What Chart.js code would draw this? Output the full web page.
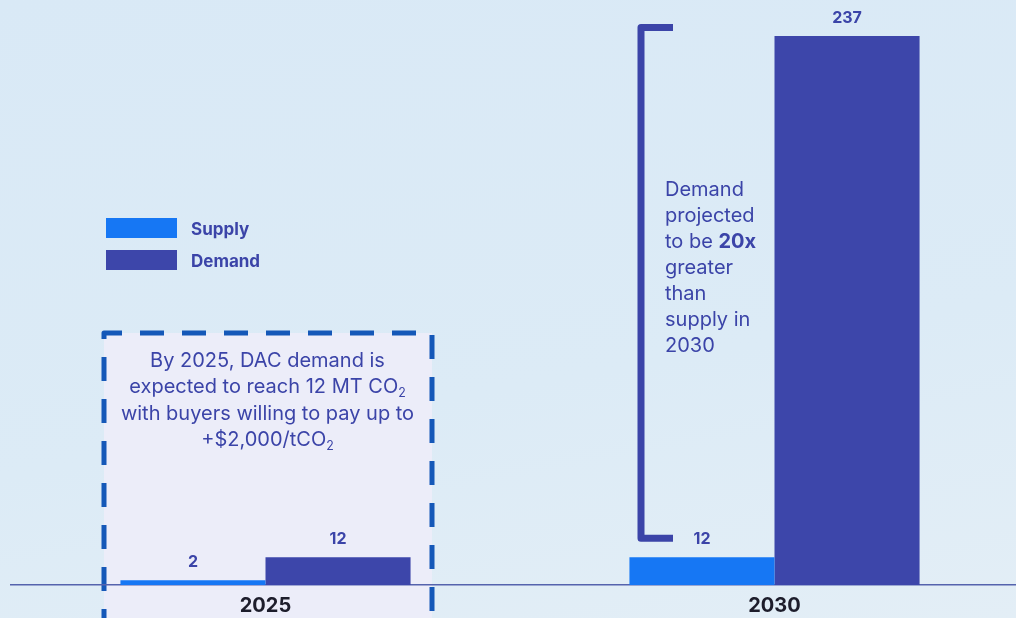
<!DOCTYPE html>
<html>
<head>
<meta charset="utf-8">
<script src="https://cdn.jsdelivr.net/npm/chart.js@4.4.0/dist/chart.umd.min.js"></script>
<style>
  html, body { margin:0; padding:0; width:1016px; height:618px; overflow:hidden;
    background: linear-gradient(170deg, #d9e9f6 0%, #dcebf6 60%, #e3eef6 100%); }
  #wrap { position:absolute; left:0; top:0; width:1030px; height:627px; }
</style>
</head>
<body>
<div id="wrap"><canvas id="c"></canvas></div>
<script>
const categories = ['2025', '2030'];
const supplyValues = [2, 12];
const demandValues = [12, 237];
const seriesNames = ['Supply', 'Demand'];
const boxLines = [
  [['By 2025, DAC demand is', null]],
  [['expected to reach 12 MT CO', null], ['2', 'sub']],
  [['with buyers willing to pay up to', null]],
  [['+$2,000/tCO', null], ['2', 'sub']]
];
const bracketLines = [
  [['Demand', 'n']],
  [['projected', 'n']],
  [['to be ', 'n'], ['20x', 'b']],
  [['greater', 'n']],
  [['than', 'n']],
  [['supply in', 'n']],
  [['2030', 'n']]
];

const FONT = 'Inter, "Open Sans", sans-serif';
const INK = '#3b44a8';
const SUPPLY = '#1677f4';
const DEMAND = '#3d46aa';

function drawRich(ctx, parts, x, y, size, align) {
  let total = 0;
  const segs = parts.map(([t, s]) => {
    const f = (s === 'b' ? 'bold ' : '') + (s === 'sub' ? size * 0.62 : size) + 'px ' + FONT;
    ctx.font = f;
    const w = ctx.measureText(t).width;
    total += w;
    return {t, s, f, w};
  });
  let cx = align === 'center' ? x - total / 2 : x;
  ctx.textAlign = 'left';
  ctx.textBaseline = 'middle';
  segs.forEach(sg => {
    ctx.font = sg.f;
    ctx.fillText(sg.t, cx, sg.s === 'sub' ? y + size * 0.3 : y);
    cx += sg.w;
  });
}

const decor = {
  id: 'decor',
  beforeDraw(chart) {
    const ctx = chart.ctx;
    const xs = chart.scales.x;
    const c0 = xs.getPixelForValue(0);
    const bx = c0 - 161.5, by = 333, bw = 328, bh = 300;
    ctx.save();
    ctx.fillStyle = '#ecedf9';
    ctx.fillRect(bx, by, bw, bh);
    ctx.strokeStyle = '#1558b8';
    ctx.lineWidth = 5;
    ctx.setLineDash([24, 18]);
    ctx.lineJoin = 'round';
    ctx.beginPath();
    ctx.moveTo(bx, by + bh);
    ctx.lineTo(bx, by);
    ctx.lineTo(bx + bw, by);
    ctx.lineTo(bx + bw, by + bh);
    ctx.stroke();
    ctx.setLineDash([]);
    ctx.fillStyle = INK;
    boxLines.forEach((ln, i) => drawRich(ctx, ln, c0 + 2, 361 + i * 26.3, 20, 'center'));
    ctx.restore();
  },
  afterDatasetsDraw(chart) {
    const ctx = chart.ctx;
    const xs = chart.scales.x, ys = chart.scales.y;
    ctx.save();
    ctx.fillStyle = INK;
    ctx.font = 'bold 16px ' + FONT;
    ctx.textAlign = 'center';
    ctx.textBaseline = 'middle';
    chart.data.datasets.forEach((ds, di) => {
      const meta = chart.getDatasetMeta(di);
      meta.data.forEach((bar, i) => {
        ctx.fillText(String(ds.data[i]), bar.x, bar.y - 18);
      });
    });
    const c1 = xs.getPixelForValue(1);
    const lx = c1 - 133.5;
    const top = ys.getPixelForValue(237) - 8.5;
    const bot = ys.getPixelForValue(12) - 19;
    ctx.strokeStyle = INK;
    ctx.lineWidth = 7;
    ctx.lineJoin = 'round';
    ctx.beginPath();
    ctx.moveTo(lx + 32, top);
    ctx.lineTo(lx, top);
    ctx.lineTo(lx, bot);
    ctx.lineTo(lx + 32, bot);
    ctx.stroke();
    ctx.fillStyle = INK;
    bracketLines.forEach((ln, i) => drawRich(ctx, ln, lx + 24, 190 + i * 26, 20, 'left'));
    chart.data.datasets.forEach((ds, di) => {
      const y = 218 + di * 32;
      ctx.fillStyle = ds.backgroundColor;
      ctx.fillRect(106, y, 71, 20);
      ctx.fillStyle = INK;
      ctx.font = 'bold 17px ' + FONT;
      ctx.textAlign = 'left';
      ctx.textBaseline = 'middle';
      ctx.fillText(ds.label, 191, y + 12);
    });
    ctx.restore();
  }
};

new Chart(document.getElementById('c'), {
  type: 'bar',
  data: {
    labels: categories,
    datasets: [
      { label: seriesNames[0], data: supplyValues, backgroundColor: SUPPLY },
      { label: seriesNames[1], data: demandValues, backgroundColor: DEMAND }
    ]
  },
  options: {
    responsive: true,
    maintainAspectRatio: false,
    animation: false,
    devicePixelRatio: 1,
    layout: { padding: { left: 11, right: 1, top: 6, bottom: 0 } },
    datasets: { bar: { categoryPercentage: 0.57, barPercentage: 1.0, borderWidth: 0 } },
    plugins: { legend: { display: false }, tooltip: { enabled: false } },
    scales: {
      x: {
        grid: { display: false, drawTicks: false },
        border: { display: true, color: '#5563ad', width: 1.5 },
        ticks: { color: '#1d1d2b', font: { family: FONT, size: 20, weight: 'bold' }, padding: 9 }
      },
      y: { display: false, min: 0, max: 250 }
    }
  },
  plugins: [decor]
});
</script>
</body>
</html>
